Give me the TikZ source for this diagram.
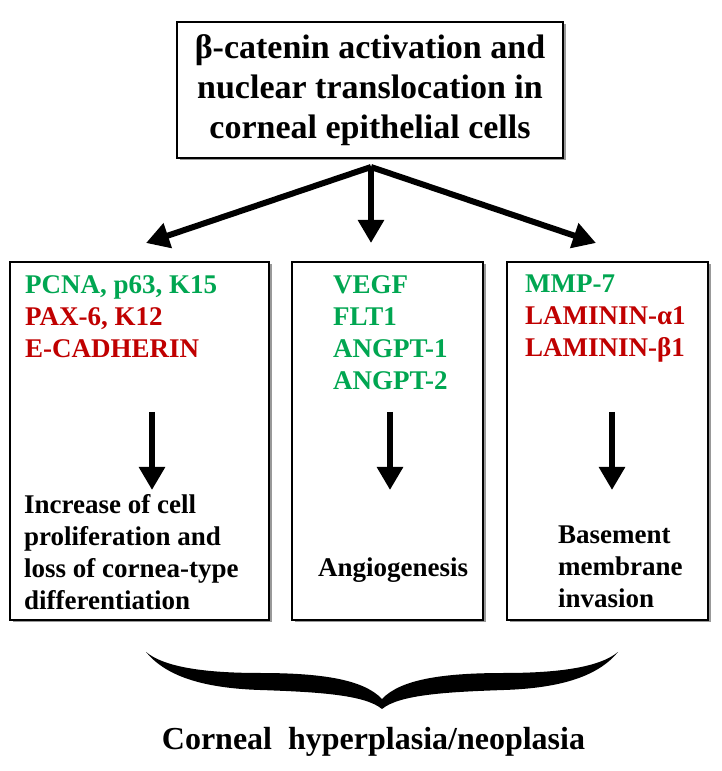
\documentclass[tikz,border=0pt]{standalone}
\usepackage{fontspec}
\setmainfont{Liberation Serif}
\usetikzlibrary{arrows.meta,shadows}
\definecolor{upgreen}{RGB}{0,166,81}
\definecolor{downred}{RGB}{192,0,0}
\tikzset{
  box/.style={draw, line width=1.5pt, fill=white,
    drop shadow={shadow xshift=2.5pt, shadow yshift=-2.5pt, fill=black!40, opacity=1}},
  fat/.style={line width=6pt, -{Triangle[width=25pt,length=23pt]}},
  bigtxt/.style={font=\bfseries\fontsize{34}{40}\selectfont, align=center},
  txt/.style={font=\bfseries\fontsize{27}{32}\selectfont, inner sep=0pt, align=left, anchor=north west},
}
\begin{document}
\begin{tikzpicture}[x=1pt,y=1pt]
  \useasboundingbox (0,0) rectangle (721,771);
  % top box
  \node[box, bigtxt, minimum width=386pt, minimum height=136pt] (cat) at (370,681)
    {β-catenin activation and\\nuclear translocation in\\corneal epithelial cells};
  % three boxes
  \node[box, minimum width=259pt, minimum height=358pt] (b1) at (139.5,330) {};
  \node[box, minimum width=191pt, minimum height=358pt] (b2) at (387.5,330) {};
  \node[box, minimum width=201pt, minimum height=358pt] (b3) at (607.5,330) {};
  % arrows from top box
  \coordinate (fork) at (371,604);
  \coordinate (t1) at (146,528);
  \coordinate (t2) at (371,528);
  \coordinate (t3) at (596,528);
  \draw[fat] (fork) -- (t1);
  \draw[fat] (fork) -- (t2);
  \draw[fat] (fork) -- (t3);
  % markers
  \node[txt] (g1) at (25,496) {\textcolor{upgreen}{PCNA, p63, K15}\\
    \textcolor{downred}{PAX-6, K12}\\\textcolor{downred}{E-CADHERIN}};
  \node[txt] (g2) at (333,496) {\textcolor{upgreen}{VEGF}\\\textcolor{upgreen}{FLT1}\\
    \textcolor{upgreen}{ANGPT-1}\\\textcolor{upgreen}{ANGPT-2}};
  \node[txt] (g3) at (525,496) {\textcolor{upgreen}{MMP-7}\\
    \textcolor{downred}{LAMININ-α1}\\\textcolor{downred}{LAMININ-β1}};
  % arrows inside boxes
  \coordinate (d1) at (152,359); \coordinate (e1) at (152,281);
  \coordinate (d2) at (390,359); \coordinate (e2) at (390,281);
  \coordinate (d3) at (612,359); \coordinate (e3) at (612,281);
  \draw[fat] (d1) -- (e1);
  \draw[fat] (d2) -- (e2);
  \draw[fat] (d3) -- (e3);
  % effects
  \node[txt] (r1) at (24,277) {Increase of cell\\proliferation and\\loss of cornea-type\\differentiation};
  \node[txt, anchor=base west] (r2) at (318,194) {Angiogenesis};
  \node[txt] (r3) at (558,245) {Basement\\membrane\\invasion};
  % brace
  \fill (146,119) .. controls (165,96) and (200,83) .. (260,81)
    .. controls (320,79) and (365,76) .. (382,62)
    .. controls (399,76) and (444,79) .. (504,81)
    .. controls (564,83) and (599,96) .. (618,119)
    .. controls (600,104) and (560,98) .. (504,98)
    .. controls (440,98) and (400,91) .. (382,72)
    .. controls (364,91) and (324,98) .. (260,98)
    .. controls (204,98) and (164,104) .. (146,119) -- cycle;
  \node[font=\bfseries\fontsize{32}{38}\selectfont, anchor=base] (res) at (373.5,21)
    {Corneal\ \ hyperplasia/neoplasia};
\end{tikzpicture}
\end{document}
